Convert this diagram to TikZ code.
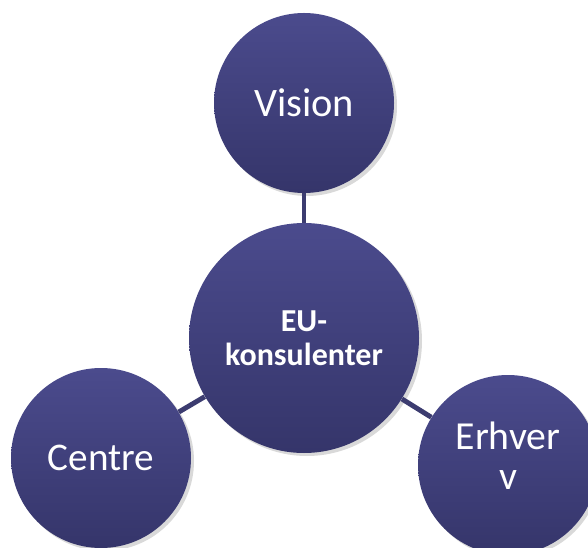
\documentclass[tikz,border=0pt]{standalone}
\usepackage{fontspec}
\setmainfont{Carlito}
\usetikzlibrary{shadows}
\definecolor{hubtop}{HTML}{4B4B8D}
\definecolor{hubbottom}{HTML}{35356A}
\definecolor{hubline}{HTML}{3C3C70}

\begin{document}
\begin{tikzpicture}[
      hub/.style={circle, top color=hubtop, bottom color=hubbottom, draw=none, text=white, align=center, inner sep=0pt,
        drop shadow={opacity=0.3, shadow xshift=0.06cm, shadow yshift=-0.06cm}},
      spoke/.style={hub, minimum size=3.6cm},
      link/.style={-, line width=2.8pt, hubline},
    ]
    \useasboundingbox (0,0) rectangle (11.76,10.94);

    \node[hub, minimum size=4.6cm, font=\bfseries\fontsize{18.2}{19.4}\selectfont] (eu) at (6.08,4.18) {EU-\\konsulenter};
    \node[spoke, font=\fontsize{23}{24}\selectfont] (vision) at (6.08,8.88) {Vision};
    \node[spoke, font=\fontsize{22.3}{24}\selectfont] (centre) at (2.02,1.78) {Centre};
    \node[spoke, text depth=0.36cm, font=\fontsize{22.6}{22.8}\selectfont] (erhverv) at (10.16,1.64) {Erhver\\v};

    \draw[link] (eu) -- (vision);
    \draw[link] (eu) -- (centre);
    \draw[link] (eu) -- (erhverv);
  \end{tikzpicture}
\end{document}
